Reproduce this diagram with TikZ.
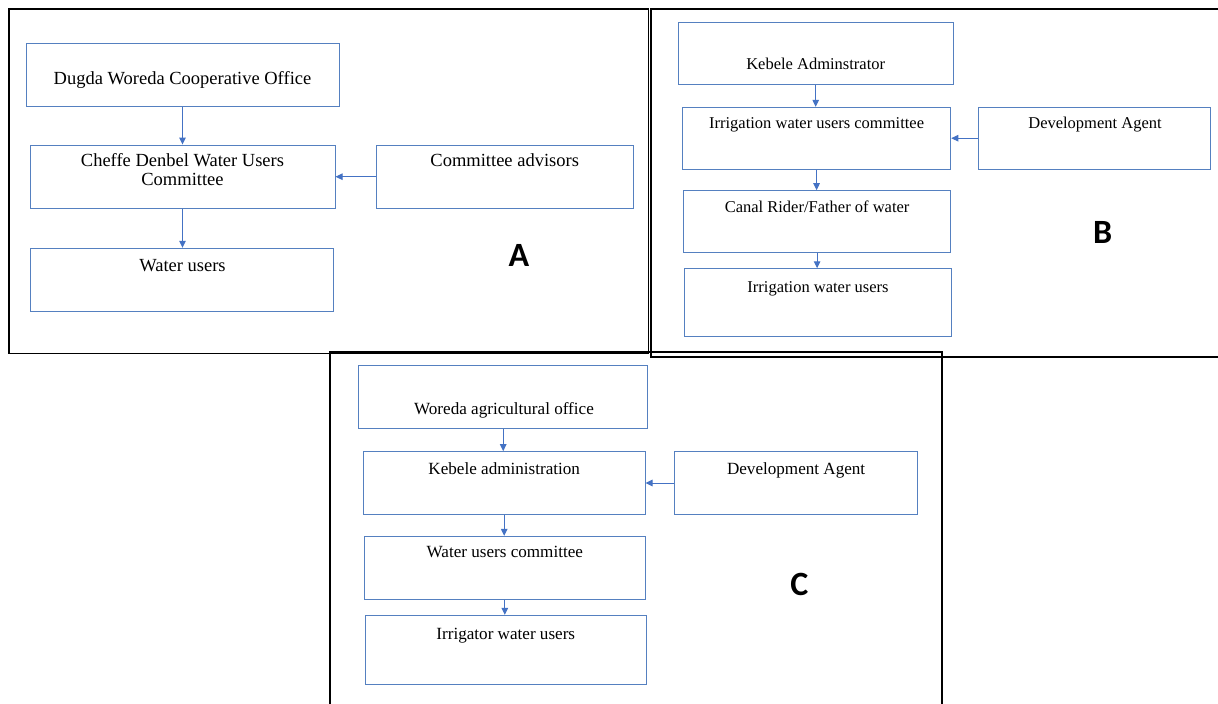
\documentclass[tikz,border=0pt]{standalone}
\usepackage{fontspec}
\setmainfont{Liberation Serif}
\newfontfamily\letfont{Carlito}
\usetikzlibrary{arrows.meta}
\definecolor{boxblue}{HTML}{5580C0}
\definecolor{arrblue}{HTML}{4472C4}
\tikzset{
  frame/.style={draw=black, line width=1.8pt},
  box/.style={draw=boxblue, line width=1pt, inner sep=0pt, rectangle},
  lblA/.style={inner sep=0pt, anchor=base, font=\fontsize{18.5}{19.3}\selectfont, align=center},
  lblB/.style={inner sep=0pt, anchor=base, font=\fontsize{16.5}{18}\selectfont},
  lblC/.style={inner sep=0pt, anchor=base, font=\fontsize{17.1}{18}\selectfont},
  panel/.style={inner sep=0pt, anchor=base, font=\letfont\bfseries\fontsize{34}{34}\selectfont},
  arr/.style={draw=arrblue, line width=1pt, -{Triangle[length=7pt,width=6.5pt]}}
}
\begin{document}
\begin{tikzpicture}[x=1pt,y=-1pt]
\useasboundingbox (0,0) rectangle (1218,704);
\fill[white] (0,0) rectangle (1218,704);

% frames
\draw[frame] (9.3,9) rectangle (648.5,353.5);
\draw[frame] (651,9) rectangle (1224,357);
\draw[frame] (330,352) rectangle (942,712);

% ---------- Panel A ----------
\node[box, minimum width=313pt, minimum height=63.4pt] (a1) at (182.5,75) {};
\node[lblA] (a1t) at (182.5,84.3) {Dugda Woreda Cooperative Office};
\node[box, minimum width=305pt, minimum height=63.3pt] (a2) at (182.5,176.7) {};
\node[lblA] (a2t) at (182.5,185.3) {Cheffe Denbel Water Users\\Committee};
\node[box, minimum width=257.4pt, minimum height=63.3pt] (a3) at (504.7,176.7) {};
\node[lblA] (a3t) at (504.7,166.7) {Committee advisors};
\node[box, minimum width=303.7pt, minimum height=63.4pt] (a4) at (181.9,280) {};
\node[lblA] (a4t) at (182.5,271) {Water users};
\node[panel] (pA) at (519,266.5) {A};

\draw[arr] (a1.south) -- (a1.south |- a2.north);
\draw[arr] (a3.west) -- (a2.east);
\draw[arr] (a2.south) -- (a2.south |- a4.north);

% ---------- Panel B ----------
\node[box, minimum width=275.3pt, minimum height=61.6pt] (b1) at (815.7,53.5) {};
\node[lblB] (b1t) at (815.7,69.3) {Kebele Adminstrator};
\node[box, minimum width=268.3pt, minimum height=61.7pt] (b2) at (816.6,138.2) {};
\node[lblB] (b2t) at (816.6,128.3) {Irrigation water users committee};
\node[box, minimum width=232.2pt, minimum height=61.7pt] (b3) at (1094.5,138.2) {};
\node[lblB] (b3t) at (1095,128.3) {Development Agent};
\node[box, minimum width=267.2pt, minimum height=61.6pt] (b4) at (817.1,221.5) {};
\node[lblB] (b4t) at (817.1,212) {Canal Rider/Father of water};
\node[box, minimum width=266.9pt, minimum height=67.3pt] (b5) at (818,302.4) {};
\node[lblB] (b5t) at (818,292.3) {Irrigation water users};
\node[panel] (pB) at (1102.6,243.3) {B};

\draw[arr] (b1.south) -- (b1.south |- b2.north);
\draw[arr] (b3.west) -- (b2.east);
\draw[arr] (b2.south) -- (b2.south |- b4.north);
\draw[arr] (b4.south) -- (b4.south |- b5.north);

% ---------- Panel C ----------
\node[box, minimum width=289.2pt, minimum height=62.6pt] (c1) at (503.2,397) {};
\node[lblC] (c1t) at (504,414) {Woreda agricultural office};
\node[box, minimum width=281.6pt, minimum height=62.6pt] (c2) at (504.2,483) {};
\node[lblC] (c2t) at (504.2,474.3) {Kebele administration};
\node[box, minimum width=243.4pt, minimum height=62.6pt] (c3) at (796.1,483) {};
\node[lblC] (c3t) at (796.1,474.3) {Development Agent};
\node[box, minimum width=280.4pt, minimum height=62.7pt] (c4) at (504.8,567.7) {};
\node[lblC] (c4t) at (504.8,557.7) {Water users committee};
\node[box, minimum width=280.8pt, minimum height=68.7pt] (c5) at (505.8,649.7) {};
\node[lblC] (c5t) at (505.8,639.3) {Irrigator water users};
\node[panel] (pC) at (799.3,595) {C};

\draw[arr] (c1.south) -- (c1.south |- c2.north);
\draw[arr] (c3.west) -- (c2.east);
\draw[arr] (c2.south) -- (c2.south |- c4.north);
\draw[arr] (c4.south) -- (c4.south |- c5.north);
\end{tikzpicture}
\end{document}
